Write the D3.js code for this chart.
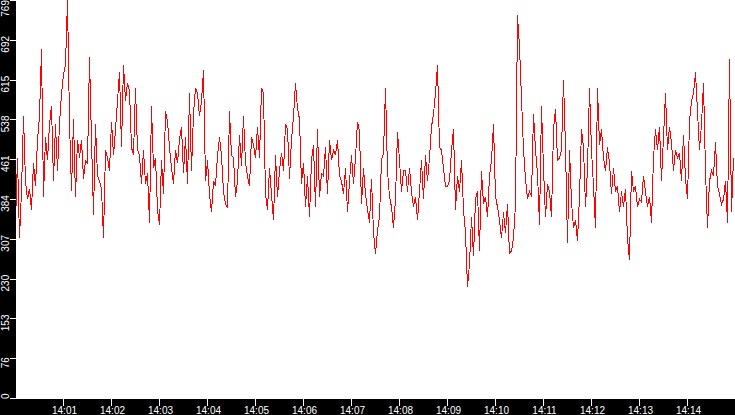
<!DOCTYPE html>
<html>
<head>
<meta charset="utf-8">
<script src="https://cdn.jsdelivr.net/npm/d3@7"></script>
<style>
  html, body { margin: 0; padding: 0; background: #000; overflow: hidden; }
  svg { display: block; }
</style>
</head>
<body>
<div id="wrapper"></div>
<script>
// samples, one every 2.5 s from 14:00:00
const startTime = "14:00:00";
const endTime = "14:15:00";
const stepSeconds = 2.5;

const values = [
  340, 465, 310, 400, 545, 420, 385, 405, 365, 455, 410, 500, 545, 675, 390,
  505, 460, 530, 565, 420, 530, 440, 530, 590, 625, 645, 769, 535, 400, 540,
  390, 500, 465, 500, 425, 460, 455, 660, 500, 355, 530, 430, 420, 405, 310,
  480, 465, 440, 535, 470, 520, 575, 630, 485, 645, 575, 610, 595, 485, 470,
  // 14:02
  600, 480, 470, 415, 480, 415, 435, 340, 565, 445, 465, 365, 335, 460, 395,
  555, 535, 485, 445, 415, 480, 455, 500, 525, 435, 505, 415, 590, 440, 550,
  600, 590, 545, 575, 635, 420, 460, 395, 360, 420, 410, 470, 505, 470, 400,
  375, 370, 555, 470, 465, 390, 420, 510, 450, 545, 455, 430, 410,
  // 14:05
  505, 490, 465, 525, 465, 600, 590, 395, 365, 445, 395, 345, 470, 390, 440,
  475, 440, 530, 520, 425, 500, 545, 610, 560, 540, 415, 455, 370, 430, 350,
  460, 490, 370, 520, 390, 435, 430, 485, 395, 500, 460, 480, 470, 500, 430,
  420, 395, 445, 360, 420,
  // 14:07
  470, 415, 465, 535, 515, 375, 445, 395, 365, 340, 425, 320, 280, 325, 350,
  460, 475, 600, 440, 390, 370, 330, 385, 515, 460, 400, 440, 440, 400, 445,
  400, 370, 390, 345, 400, 460, 385, 470, 420, 465, 525, 550, 590, 645, 485,
  480, 445, 410, 410, 420,
  // 14:09
  480, 520, 365, 430, 400, 460, 365, 320, 215, 260, 350, 275, 385, 400, 285,
  440, 375, 390, 350, 430, 460, 530, 390, 370, 345, 310, 360, 320, 375, 280,
  285, 310, 375, 740, 680, 580, 480, 425, 385, 400, 390, 550, 480, 435, 335,
  565, 445, 350, 415, 400,
  // 14:11
  350, 520, 560, 460, 465, 480, 615, 485, 300, 480, 380, 330, 345, 305, 390,
  520, 485, 370, 445, 600, 480, 410, 330, 600, 490, 520, 465, 440, 485, 455,
  395, 445, 400, 410, 360, 400, 370, 405, 310, 267, 440, 400, 410, 370, 385,
  380, 430,
  // 14:13
  400, 370, 390, 340, 465, 520, 480, 525, 420, 505, 590, 480, 525, 495, 440,
  480, 465, 475, 420, 510, 425, 385, 535, 575, 590, 630, 555, 480, 530, 610,
  440, 330, 420, 440, 430, 495, 410, 395, 375, 385, 420, 340, 655, 360, 465
];

const xTickLabels = [
  "14:01", "14:02", "14:03", "14:04", "14:05", "14:06", "14:07",
  "14:08", "14:09", "14:10", "14:11", "14:12", "14:13", "14:14"
];

const yMax = 769;
const yTickValues = [0, 76.9, 153.8, 230.7, 307.6, 384.5, 461.4, 538.3, 615.2, 692.1, 769];
const yTickLabels = ["0", "76", "153", "230", "307", "384", "461", "538", "615", "692", "769"];

function drawChart() {
  const parseTime = d3.timeParse("%H:%M:%S");
  const parseTick = d3.timeParse("%H:%M");
  const start = parseTime(startTime);

  const dataset = values.map((v, i) => ({
    time: new Date(+start + i * stepSeconds * 1000),
    value: v,
  }));

  // dimensions
  let dimensions = {
    width: 735,
    height: 415,
    margin: { top: 0, right: 0, bottom: 16, left: 16 },
  };
  dimensions.boundedWidth =
    dimensions.width - dimensions.margin.left - dimensions.margin.right;
  dimensions.boundedHeight =
    dimensions.height - dimensions.margin.top - dimensions.margin.bottom;

  const fontFamily = "'Liberation Sans', Arial, sans-serif";

  const wrapper = d3
    .select("#wrapper")
    .append("svg")
    .attr("width", dimensions.width)
    .attr("height", dimensions.height);

  wrapper
    .append("rect")
    .attr("width", dimensions.width)
    .attr("height", dimensions.height)
    .attr("fill", "#000");

  wrapper
    .append("rect")
    .attr("x", dimensions.margin.left)
    .attr("y", dimensions.margin.top)
    .attr("width", dimensions.boundedWidth)
    .attr("height", dimensions.boundedHeight)
    .attr("fill", "#fff");

  wrapper
    .append("defs")
    .append("clipPath")
    .attr("id", "plotClip")
    .append("rect")
    .attr("x", dimensions.margin.left)
    .attr("y", dimensions.margin.top)
    .attr("width", dimensions.boundedWidth)
    .attr("height", dimensions.boundedHeight);

  // scales
  const xScale = d3
    .scaleTime()
    .domain([start, parseTime(endTime)])
    .range([15, 735]);

  const yScale = d3
    .scaleLinear()
    .domain([0, yMax])
    .range([398, 0]);

  // line
  const lineGenerator = d3
    .line()
    .x((d) => xScale(d.time) + 0.5)
    .y((d) => yScale(d.value) + 0.5);

  wrapper
    .append("path")
    .datum(dataset)
    .attr("clip-path", "url(#plotClip)")
    .attr("d", lineGenerator)
    .attr("fill", "none")
    .attr("stroke", "#ff0000")
    .attr("stroke-width", 1)
    .attr("shape-rendering", "crispEdges");

  // x axis
  const xAxisGenerator = d3
    .axisBottom(xScale)
    .tickValues(xTickLabels.map(parseTick))
    .tickFormat((d, i) => xTickLabels[i])
    .tickSize(7)
    .tickSizeOuter(0);

  const xAxis = wrapper
    .append("g")
    .attr("class", "x-axis")
    .attr("transform", `translate(0, ${dimensions.boundedHeight})`)
    .attr("color", "#fff")
    .attr("font-family", fontFamily)
    .attr("font-size", 10)
    .call(xAxisGenerator);

  xAxis.select(".domain").remove();
  xAxis.selectAll(".tick line").attr("shape-rendering", "crispEdges");
  xAxis.selectAll(".tick text").attr("y", 8).attr("dx", 1);

  // y axis, labels turned on their side
  const yAxisGenerator = d3
    .axisLeft(yScale)
    .tickValues(yTickValues)
    .tickFormat((d, i) => yTickLabels[i])
    .tickSize(6)
    .tickSizeOuter(0);

  const yAxis = wrapper
    .append("g")
    .attr("class", "y-axis")
    .attr("transform", `translate(${dimensions.margin.left}, 0)`)
    .attr("color", "#fff")
    .attr("font-family", fontFamily)
    .attr("font-size", 10)
    .call(yAxisGenerator);

  yAxis.select(".domain").remove();
  yAxis.selectAll(".tick line").attr("shape-rendering", "crispEdges");

  yAxis.selectAll(".tick text").each(function (d) {
    const text = d3.select(this);
    const pos = yScale(d) + 0.5;
    const half = this.getComputedTextLength() / 2;
    const center = Math.max(half, Math.min(dimensions.boundedHeight - half, pos + 4));
    text
      .attr("transform", "rotate(-90)")
      .attr("text-anchor", "middle")
      .attr("x", -(center - pos))
      .attr("y", -7.5)
      .attr("dy", 0);
  });
}

drawChart();
</script>
</body>
</html>
